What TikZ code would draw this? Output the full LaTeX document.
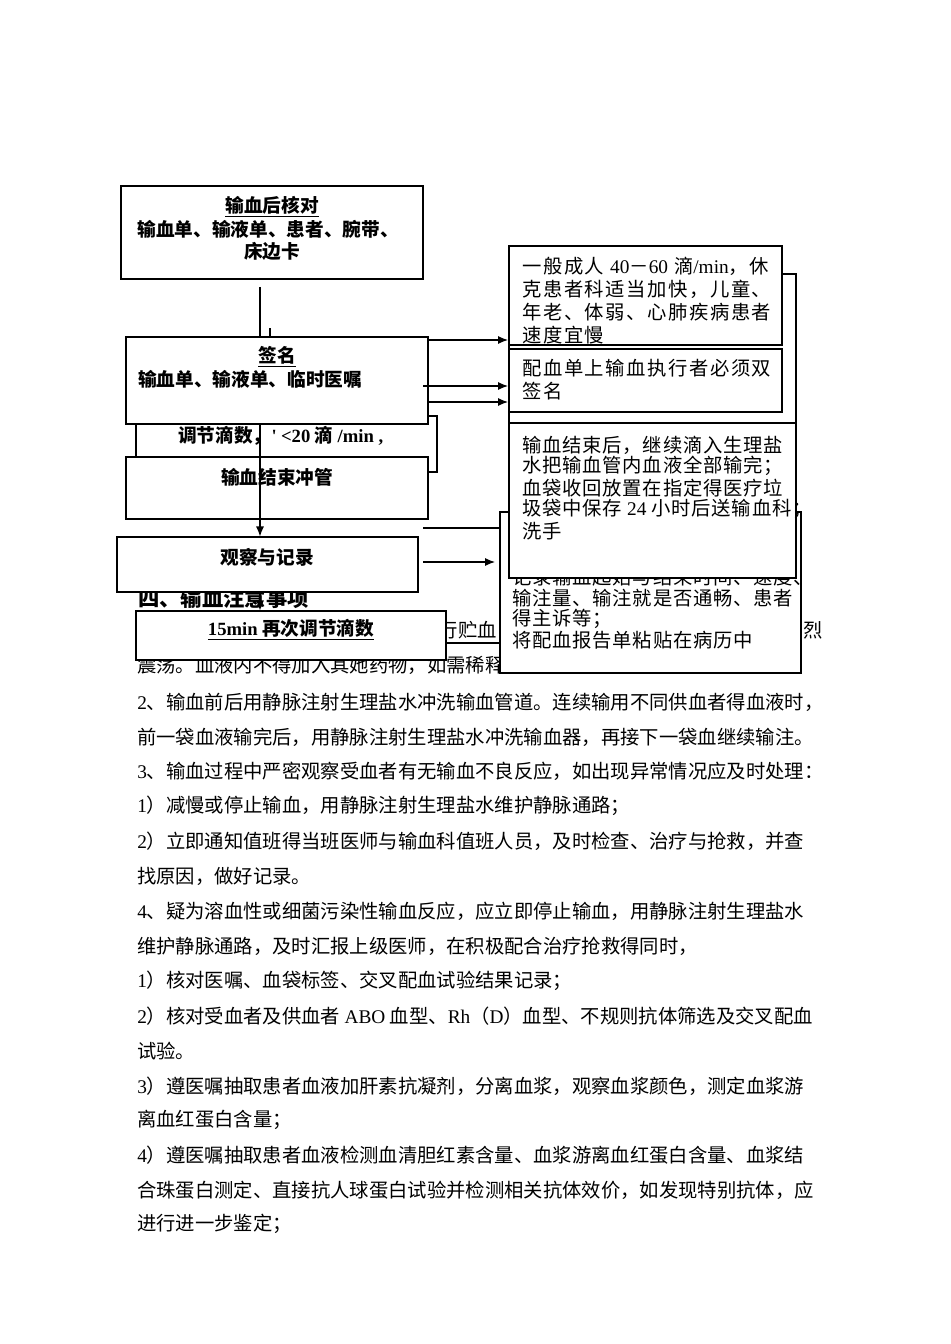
\documentclass[tikz,border=0pt]{standalone}
\usepackage{fontspec}
\setmainfont{Noto Sans CJK SC}
\newfontfamily\lat{Liberation Serif}
\newfontfamily\rsp{Noto Sans CJK SC}[LetterSpace=4]
\newfontfamily\gsp{Noto Sans CJK SC}[LetterSpace=8]
\usetikzlibrary{arrows.meta,fit}
\begin{document}
\begin{tikzpicture}[x=0.75pt,y=-0.75pt,
  box/.style={draw=black, line width=0.8pt, fill=white, inner sep=0pt},
  conn/.style={draw=black, line width=0.8pt},
  arr/.style={conn, -{Latex[length=7.5pt,width=6pt]}},
  bt/.style={inner sep=0pt, anchor=west, font=\fontsize{14.5pt}{17pt}\selectfont},
  bx/.style={inner sep=0pt, font=\fontsize{14pt}{17pt}\selectfont\bfseries},
  hd/.style={inner sep=0pt, anchor=west, font=\fontsize{16pt}{19pt}\selectfont\bfseries},
  rt/.style={inner sep=0pt, anchor=west, font=\fontsize{14.5pt}{17pt}\rsp},
  gt/.style={inner sep=0pt, anchor=west, font=\fontsize{14.5pt}{17pt}\gsp},
]
\useasboundingbox (0,0) rectangle (950,1344);
\fill[white] (0,0) rectangle (950,1344);

% ---------- body text ----------
\node[bt, anchor=east] (p0a) at (497,630) {{\lat 1}、取回得血液应尽快输用，不得自行贮血};
\node[bt, anchor=east] (p0b) at (823,630) {输血前将血袋内成分混匀，避免剧烈};
\node[bt] (p0c) at (137,665) {震荡。血液内不得加入其她药物，如需稀释只能用静脉注射生理盐水。};
\node[hd] (head) at (138,598) {四、输血注意事项};
\node[bt] (p1) at (137,702) {{\lat 2}、输血前后用静脉注射生理盐水冲洗输血管道。连续输用不同供血者得血液时，};
\node[bt] (p2) at (137,737) {前一袋血液输完后，用静脉注射生理盐水冲洗输血器，再接下一袋血继续输注。};
\node[bt] (p3) at (137,771) {{\lat 3}、输血过程中严密观察受血者有无输血不良反应，如出现异常情况应及时处理：};
\node[bt] (p4) at (137,806) {{\lat 1}）减慢或停止输血，用静脉注射生理盐水维护静脉通路；};
\node[bt] (p5) at (137,841) {{\lat 2}）立即通知值班得当班医师与输血科值班人员，及时检查、治疗与抢救，并查};
\node[bt] (p6) at (137,876) {找原因，做好记录。};
\node[bt] (p7) at (137,911) {{\lat 4}、疑为溶血性或细菌污染性输血反应，应立即停止输血，用静脉注射生理盐水};
\node[bt] (p8) at (137,946) {维护静脉通路，及时汇报上级医师，在积极配合治疗抢救得同时，};
\node[bt] (p9) at (137,981) {{\lat 1}）核对医嘱、血袋标签、交叉配血试验结果记录；};
\node[bt] (p10) at (137,1016) {{\lat 2}）核对受血者及供血者 {\lat ABO} 血型、{\lat Rh}（{\lat D}）血型、不规则抗体筛选及交叉配血};
\node[bt] (p11) at (137,1051) {试验。};
\node[bt] (p12) at (137,1086) {{\lat 3}）遵医嘱抽取患者血液加肝素抗凝剂，分离血浆，观察血浆颜色，测定血浆游};
\node[bt] (p13) at (137,1120) {离血红蛋白含量；};
\node[bt] (p14) at (137,1155) {{\lat 4}）遵医嘱抽取患者血液检测血清胆红素含量、血浆游离血红蛋白含量、血浆结};
\node[bt] (p15) at (137,1190) {合珠蛋白测定、直接抗人球蛋白试验并检测相关抗体效价，如发现特别抗体，应};
\node[bt] (p16) at (137,1224) {进行进一步鉴定；};

% ---------- left column boxes ----------
\node[box, fit={(136,416) (437,472)}] (T) {};
\node[bx, anchor=west] (Tt) at (178,436) {调节滴数，{\lat\bfseries '} {\lat\bfseries <20} 滴 {\lat\bfseries /min ,}};

\node[box, fit={(121,186) (423,279)}] (A) {};
\node[bx] (At1) at (272,207) {\underline{输血后核对}};
\node[bx] (At2) at (268,229) {输血单、输液单、患者、腕带、};
\node[bx] (At3) at (272,251) {床边卡};

\node[box, fit={(126,337) (428,424)}] (B) {};
\node[bx] (Bt1) at (277,357) {\underline{签名}};
\node[bx, anchor=west] (Bt2) at (138,379) {输血单、输液单、临时医嘱};

\node[box, fit={(126,457) (428,519)}] (C) {};
\node[bx] (Ct) at (277,477) {输血结束冲管};

\node[box, fit={(117,537) (418,592)}] (D) {};
\node[bx] (Dt) at (267,557) {观察与记录};

\node[box, fit={(136,611) (446,660)}] (H) {};
\node[bx] (Ht) at (291,630) {\underline{{\lat\bfseries 15min} 再次调节滴数}};

% ---------- right column boxes ----------
\node[box, fit={(500,512) (801,673)}] (E) {};
\node[rt] (Et1) at (512,577) {记录输血起始与结束时间、速度、};
\node[rt] (Et2) at (512,598) {输注量、输注就是否通畅、患者};
\node[rt] (Et3) at (512,619) {得主诉等；};
\node[rt] (Et4) at (512,640) {将配血报告单粘贴在病历中};

\node[box, fit={(509,274) (796,423)}] (Fb) {};
\node[box, fit={(509,423) (796,578)}] (F) {};
\node[rt] (Ft1) at (522,445) {输血结束后，继续滴入生理盐};
\node[rt] (Ft2) at (522,466) {水把输血管内血液全部输完；};
\node[rt] (Ft3) at (522,488) {血袋收回放置在指定得医疗垃};
\node[rt] (Ft4) at (522,509) {圾袋中保存 {\lat 24} 小时后送输血科；};
\node[rt] (Ft5) at (522,531) {洗手};

\node[box, fit={(509,246) (782,345)}] (G1) {};
\node[gt] (G1t1) at (522,266) {一般成人 {\lat 40}－{\lat 60} 滴{\lat /min}，休};
\node[gt] (G1t2) at (522,289) {克患者科适当加快，儿童、};
\node[gt] (G1t3) at (522,312) {年老、体弱、心肺疾病患者};
\node[gt] (G1t4) at (522,335) {速度宜慢};

\node[box, fit={(509,349) (782,412)}] (G2) {};
\node[gt] (G2t1) at (522,368) {配血单上输血执行者必须双};
\node[gt] (G2t2) at (522,391) {签名};

% ---------- connectors ----------
\coordinate (ab) at (260,287);
\draw[conn] (ab) -- (ab |- B.north);
\coordinate (tk) at (270,328);
\draw[conn] (tk) -- (tk |- B.north);
\draw[arr] (ab |- B.south) -- (ab |- D.north);
\draw[arr] (ab |- D.south) -- (ab |- H.north);

\coordinate (b1s) at (428,340); \coordinate (b1e) at (508,340);
\draw[arr] (b1s) -- (b1e);
\coordinate (b2s) at (423,386); \coordinate (b2e) at (508,386);
\draw[arr] (b2s) -- (b2e);
\coordinate (b3s) at (428,402); \coordinate (b3e) at (508,402);
\draw[arr] (b3s) -- (b3e);

\coordinate (c1s) at (423,528);
\draw[conn] (c1s) -- (c1s -| E.west);
\coordinate (d1s) at (423,562); \coordinate (d1e) at (495,562);
\draw[arr] (d1s) -- (d1e);
\coordinate (h1s) at (446,643);
\draw[conn] (h1s) -- (h1s -| E.west);
\end{tikzpicture}
\end{document}
